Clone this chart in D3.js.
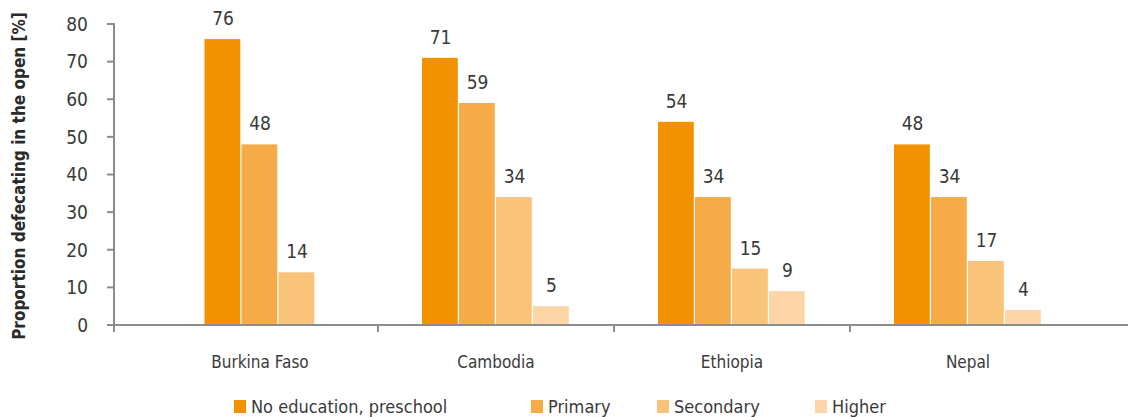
<!DOCTYPE html>
<html><head><meta charset="utf-8">
<script src="https://cdn.jsdelivr.net/npm/d3@7/dist/d3.min.js"></script>
<style>
html,body{margin:0;padding:0;background:#fff;}
text{font-family:"Liberation Sans Narrow","DejaVu Sans Condensed",sans-serif;fill:#3a3a3a;}
</style></head>
<body><svg id="chart" width="1131" height="417"></svg>
<script>
const countries = ["Burkina Faso", "Cambodia", "Ethiopia", "Nepal"];
const seriesNames = ["No education, preschool", "Primary", "Secondary", "Higher"];
const noEducation = [76, 71, 54, 48];
const primary = [48, 59, 34, 34];
const secondary = [14, 34, 15, 17];
const higher = [null, 5, 9, 4];
const yTicks = [0, 10, 20, 30, 40, 50, 60, 70, 80];
const colors = ["#F39200", "#F5AB48", "#F9C37A", "#FCD6A7"];
const yTitle = "Proportion defecating in the open [%]";

(function () {
const seriesValues = [noEducation, primary, secondary, higher];
const svg = d3.select("#chart");
const mLeft = 114, mRight = 1128, mTop = 24, mBottom = 325;

const x = d3.scaleBand().domain(countries).range([142, 1086]).padding(0);
const y = d3.scaleLinear().domain([0, 80]).range([mBottom, mTop]);
const barW = 37;

countries.forEach((c, ci) => {
  const present = seriesNames.map((s, si) => ({s, si, v: seriesValues[si][ci]})).filter(d => d.v != null);
  const cx = x(c) + x.bandwidth() / 2;
  const inner = d3.scaleBand().domain(present.map(d => d.s))
    .range([cx - barW * present.length / 2, cx + barW * present.length / 2]);
  const g = svg.append("g");
  g.selectAll("rect").data(present).join("rect")
    .attr("x", d => inner(d.s))
    .attr("width", inner.bandwidth() - 1.2)
    .attr("y", d => y(d.v))
    .attr("height", d => mBottom - y(d.v))
    .attr("fill", d => colors[d.si]);
  g.selectAll("text").data(present).join("text")
    .attr("x", d => inner(d.s) + inner.bandwidth() / 2)
    .attr("y", d => y(d.v) - 14)
    .attr("text-anchor", "middle")
    .attr("font-size", 19)
    .text(d => d.v);
});

const axisColor = "#8c8c8c";
svg.append("line").attr("x1", mLeft).attr("x2", mLeft).attr("y1", mTop - 1).attr("y2", mBottom + 7)
  .attr("stroke", axisColor).attr("stroke-width", 2);
svg.selectAll(".yt").data(yTicks).join("line")
  .attr("x1", mLeft - 7).attr("x2", mLeft).attr("y1", d => y(d)).attr("y2", d => y(d))
  .attr("stroke", axisColor).attr("stroke-width", 2);
svg.selectAll(".yl").data(yTicks).join("text")
  .attr("x", 88).attr("y", d => y(d)).attr("dy", "0.36em")
  .attr("text-anchor", "end").attr("font-size", 19).text(d => d);

svg.append("line").attr("x1", mLeft - 7).attr("x2", mRight).attr("y1", mBottom).attr("y2", mBottom)
  .attr("stroke", axisColor).attr("stroke-width", 2);
svg.selectAll(".xt").data(countries.slice(1)).join("line")
  .attr("x1", d => x(d)).attr("x2", d => x(d)).attr("y1", mBottom).attr("y2", mBottom + 7)
  .attr("stroke", axisColor).attr("stroke-width", 2);
svg.selectAll(".xl").data(countries).join("text")
  .attr("x", d => x(d) + x.bandwidth() / 2).attr("y", 368)
  .attr("text-anchor", "middle").attr("font-size", 17).text(d => d);

svg.append("text").attr("transform", "translate(25,176) rotate(-90)")
  .attr("text-anchor", "middle").attr("font-size", 17).attr("font-weight", "bold")
  .style("fill", "#2a2a2a").text(yTitle);

const legendX = [234, 531, 657, 815];
seriesNames.forEach((s, i) => {
  svg.append("rect").attr("x", legendX[i]).attr("y", 400).attr("width", 12).attr("height", 13).attr("fill", colors[i]);
  svg.append("text").attr("x", legendX[i] + 17).attr("y", 413).attr("font-size", 18).text(s);
});
})();
</script></body></html>
